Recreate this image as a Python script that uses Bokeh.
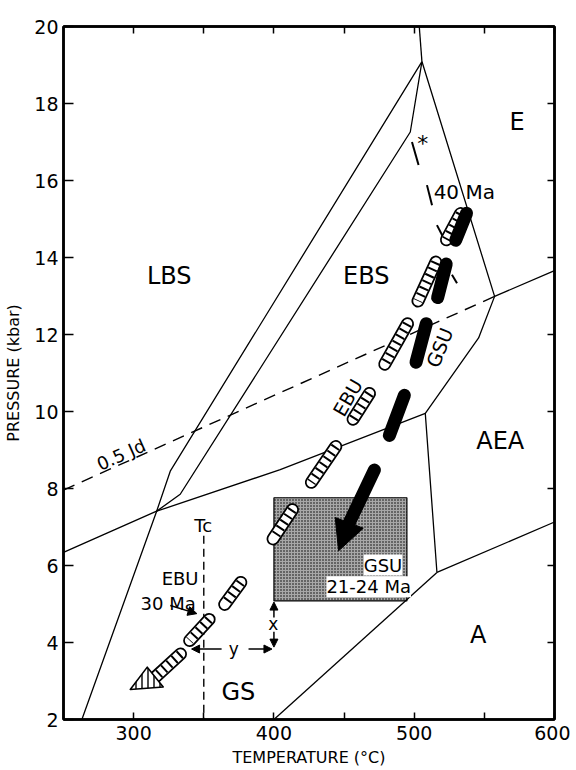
from bokeh.plotting import figure
from bokeh.models import (Range1d, LinearAxis, FixedTicker, Label, Arrow,
                          NormalHead, CustomJSTickFormatter)
from bokeh.embed import file_html
from bokeh.resources import INLINE

FONT = "DejaVu Sans"

# ---------------- data (temperature degC, pressure kbar) ----------------
x_ticks = [300, 400, 500, 600]
x_minor = [350, 450, 550]
y_ticks = [2, 4, 6, 8, 10, 12, 14, 16, 18, 20]

# facies boundaries (solid)
bnd_T = [
    [503.6, 505.5],
    [505.5, 326.1, 316.4, 263.1],
    [505.5, 497.2, 333.2, 316.4],
    [505.5, 557.3, 545.9, 507.9, 516.2],
    [557.3, 600.0],
    [250.0, 316.4, 404.5, 507.9],
    [516.2, 600.0],
    [400.0, 516.2],
]
bnd_P = [
    [20.0, 19.09],
    [19.09, 8.45, 7.41, 2.0],
    [19.09, 17.26, 7.85, 7.41],
    [19.09, 12.99, 11.91, 9.95, 5.82],
    [12.99, 13.66],
    [6.34, 7.41, 8.49, 9.95],
    [5.82, 7.13],
    [2.0, 5.82],
]

# 0.5 Jd isopleth (dashed)
jd_T = [250.0, 557.3]
jd_P = [7.96, 12.99]

# Tc (dashed)
tc_T = [350.0, 350.0]
tc_P = [6.77, 2.0]

# GSU 21-24 Ma box
box_T = [400.0, 494.8]
box_P = [5.08, 7.76]

# GSU path (black dashes) + arrowhead
gsu_T0 = [537.3, 522.8, 508.6, 493.0, 471.6]
gsu_P0 = [15.15, 13.83, 12.28, 10.42, 8.48]
gsu_T1 = [529.6, 516.7, 501.3, 482.3, 453.7]
gsu_P1 = [14.45, 12.96, 11.28, 9.38, 7.11]
gsu_tip = (446.1, 6.38)

# EBU path (hatched capsules) + arrowhead
ebu_T0 = [533.0, 515.4, 495.2, 468.1, 444.1, 413.2, 376.4, 353.8, 333.4]
ebu_P0 = [15.14, 13.88, 12.28, 10.47, 9.09, 7.45, 5.56, 4.6, 3.7]
ebu_T1 = [523.0, 502.7, 479.0, 456.4, 426.7, 399.4, 364.9, 339.9, 315.4]
ebu_P1 = [14.46, 12.87, 11.23, 9.8, 8.16, 6.69, 4.99, 4.05, 3.1]
ebu_head_T = [297.6, 309.7, 321.1]
ebu_head_P = [2.78, 3.36, 2.845]

# small sample marks
mk_T0 = [498.4, 509.1, 516.2, 526.9]
mk_P0 = [17.0, 15.88, 14.84, 13.55]
mk_T1 = [503.1, 512.7, 520.5, 530.5]
mk_P1 = [16.4, 15.36, 14.54, 13.33]

# field names
field_names = ["LBS", "EBS", "E", "AEA", "A", "GS"]
field_T = [325.4, 465.8, 573.3, 561.3, 545.7, 374.6]
field_P = [13.52, 13.52, 17.52, 9.23, 4.19, 2.72]

# ---------------- figure ----------------
p = figure(width=570, height=769, x_range=Range1d(250, 600), y_range=Range1d(2, 20),
           output_backend="svg", toolbar_location=None,
           min_border_left=63, min_border_right=16, min_border_top=26, min_border_bottom=48)
p.grid.visible = False
p.outline_line_color = "black"
p.outline_line_width = 2.5
p.background_fill_color = "white"
p.border_fill_color = "white"

xa = p.xaxis[0]
xa.ticker = FixedTicker(ticks=x_ticks, minor_ticks=x_minor)
ya = p.yaxis[0]
ya.ticker = FixedTicker(ticks=y_ticks, minor_ticks=[])
for ax in (xa, ya):
    ax.axis_line_width = 2.5
    ax.major_tick_out = 0
    ax.minor_tick_out = 0
    ax.major_tick_line_width = 1.5
    ax.minor_tick_line_width = 1.5
    ax.major_label_text_font = FONT
    ax.major_label_text_font_size = "19px"
    ax.major_label_text_color = "black"
    ax.axis_label_text_font = FONT
    ax.axis_label_text_font_style = "normal"
    ax.axis_label_text_font_size = "16px"
    ax.axis_label_text_color = "black"
xa.major_tick_in = 7
xa.minor_tick_in = 7
xa.major_label_standoff = 6
xa.axis_label = "TEMPERATURE (°C)"
xa.axis_label_standoff = 5
ya.major_tick_in = 10
ya.minor_tick_in = 0
ya.major_label_standoff = 5
ya.axis_label = "PRESSURE (kbar)"
ya.axis_label_standoff = 8

blank = CustomJSTickFormatter(code="return ''")
top = LinearAxis(ticker=FixedTicker(ticks=x_ticks + x_minor), formatter=blank,
                 major_tick_in=7, major_tick_out=0, minor_tick_in=0, minor_tick_out=0,
                 axis_line_width=2.5, major_tick_line_width=1.5,
                 major_label_text_font_size="1px", major_label_standoff=0)
right = LinearAxis(ticker=FixedTicker(ticks=y_ticks, minor_ticks=[]), formatter=blank,
                   major_tick_in=7, major_tick_out=0, minor_tick_in=0, minor_tick_out=0,
                   axis_line_width=2.5, major_tick_line_width=1.5,
                   major_label_text_font_size="1px", major_label_standoff=0)
p.add_layout(top, "above")
p.add_layout(right, "right")

# stippled box
p.quad(left=[box_T[0]], right=[box_T[1]], bottom=[box_P[0]], top=[box_P[1]],
       fill_color="#a8a8a8", line_color="black", line_width=1.2,
       hatch_pattern="dot", hatch_color="black", hatch_scale=3, hatch_weight=1.4)

# boundaries
p.multi_line(xs=bnd_T, ys=bnd_P, line_color="black", line_width=1.3)
p.line(jd_T, jd_P, line_color="black", line_width=1.4, line_dash="12 8")
p.line(tc_T, tc_P, line_color="black", line_width=1.4, line_dash="8 5")

# sample marks
p.segment(x0=mk_T0, y0=mk_P0, x1=mk_T1, y1=mk_P1, line_color="black", line_width=2)

# EBU hatched capsules
ebu_xs = [[a, b] for a, b in zip(ebu_T0, ebu_T1)]
ebu_ys = [[a, b] for a, b in zip(ebu_P0, ebu_P1)]
p.multi_line(xs=ebu_xs, ys=ebu_ys, line_color="black", line_width=13, line_cap="round")
p.multi_line(xs=ebu_xs, ys=ebu_ys, line_color="white", line_width=9.5, line_cap="round")
p.multi_line(xs=ebu_xs, ys=ebu_ys, line_color="black", line_width=9.5, line_dash="2 5")
p.patch(ebu_head_T, ebu_head_P, fill_color="white", line_color="black", line_width=1.6,
        line_join="round", hatch_pattern="vertical_line", hatch_color="black",
        hatch_scale=6, hatch_weight=1.4)

# GSU black dashes
gsu_xs = [[a, b] for a, b in zip(gsu_T0, gsu_T1)]
gsu_ys = [[a, b] for a, b in zip(gsu_P0, gsu_P1)]
p.multi_line(xs=gsu_xs, ys=gsu_ys, line_color="black", line_width=13, line_cap="round")
p.add_layout(Arrow(end=NormalHead(size=30, fill_color="black", line_color="black"),
                   x_start=gsu_T1[-1], y_start=gsu_P1[-1], x_end=gsu_tip[0], y_end=gsu_tip[1],
                   line_alpha=0))

# small arrows (x, y, 30 Ma pointer)
def small_arrow(x0, y0, x1, y1, size=8):
    p.add_layout(Arrow(end=NormalHead(size=size, fill_color="black", line_color="black"),
                       x_start=x0, y_start=y0, x_end=x1, y_end=y1,
                       line_color="black", line_width=1.5))

small_arrow(362.7, 3.83, 341.3, 3.83)
small_arrow(381.9, 3.83, 398.6, 3.83)
small_arrow(400.0, 4.65, 400.0, 5.05)
small_arrow(400.0, 4.28, 400.0, 3.88)
small_arrow(326.1, 4.96, 345.1, 4.75, size=9)

# ---------------- texts ----------------
def lab(x, y, text, size, angle=0.0, align="center", bg=None):
    p.add_layout(Label(x=x, y=y, text=text, text_font=FONT, text_font_size=size,
                       text_align=align, text_baseline="middle", angle=angle,
                       text_color="black", background_fill_color=bg))

for name, t, pr in zip(field_names, field_T, field_P):
    lab(t, pr, name, "24px")

lab(535.7, 15.69, "40 Ma", "20px")
lab(506.0, 16.95, "*", "22px")
lab(291.1, 8.88, "0.5 Jd", "18px", angle=0.424)
lab(452.5, 10.36, "EBU", "19px", angle=1.05)
lab(518.1, 11.66, "GSU", "19px", angle=1.19)
lab(349.6, 7.04, "Tc", "18px")
lab(333.1, 5.67, "EBU", "18px")
lab(324.6, 5.02, "30 Ma", "18px")
lab(371.3, 3.83, "y", "17px")
lab(399.5, 4.48, "x", "17px")
lab(491.5, 6.01, "GSU", "18px", align="right", bg="white")
lab(497.7, 5.45, "21-24 Ma", "18px", align="right", bg="white")

open("out.html", "w").write(file_html(p, INLINE))
